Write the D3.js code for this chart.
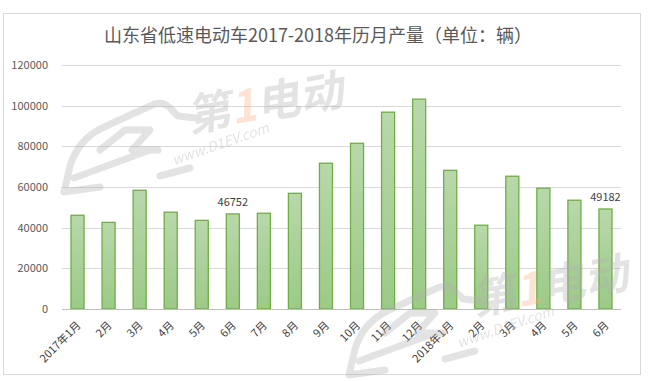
<!DOCTYPE html>
<html>
<head>
<meta charset="utf-8">
<script src="https://cdn.jsdelivr.net/npm/d3@7/dist/d3.min.js"></script>
<style>
    body { margin: 0; background: #fff; }
    text { font-family: 'Noto Sans CJK SC', 'Noto Sans', sans-serif; }
</style>
</head>
<body>
<script>
'use strict';

var title = '山东省低速电动车2017-2018年历月产量（单位：辆）';
var months = ['2017年1月', '2月', '3月', '4月', '5月', '6月', '7月', '8月', '9月', '10月',
    '11月', '12月', '2018年1月', '2月', '3月', '4月', '5月', '6月'];
var output = [46100, 42600, 58400, 47600, 43600, 46752, 47100, 56900, 71700, 81500,
    96800, 103200, 68200, 41200, 65300, 59400, 53500, 49182];
var labelled = [5, 17];
var yTicks = [0, 20000, 40000, 60000, 80000, 100000, 120000];

var width = 653;
var height = 381;
var margin = { left: 62, right: 32, top: 65, bottom: 72 };

var svg = d3.select('body').append('svg')
    .attr('width', width)
    .attr('height', height);

var defs = svg.append('defs');
var grad = defs.append('linearGradient')
    .attr('id', 'barFill')
    .attr('x1', 0).attr('y1', 0).attr('x2', 0).attr('y2', 1);
grad.append('stop').attr('offset', '0%').attr('stop-color', '#b8d8aa');
grad.append('stop').attr('offset', '100%').attr('stop-color', '#9cca87');

// chart frame
svg.append('rect')
    .attr('x', 3.5).attr('y', 13.5)
    .attr('width', 637).attr('height', 361)
    .attr('fill', '#fff')
    .attr('stroke', '#d9d9d9');

var x = d3.scaleBand()
    .domain(months.map(function (d, i) { return i; }))
    .range([margin.left, width - margin.right])
    .paddingInner(0.58)
    .paddingOuter(0.29);

var y = d3.scaleLinear()
    .domain([0, 120000])
    .range([height - margin.bottom, margin.top]);

// gridlines
svg.append('g')
    .selectAll('line')
    .data(yTicks.slice(1))
    .enter().append('line')
    .attr('x1', margin.left).attr('x2', width - margin.right)
    .attr('y1', function (d) { return Math.round(y(d)) + 0.5; })
    .attr('y2', function (d) { return Math.round(y(d)) + 0.5; })
    .attr('stroke', '#d9d9d9');

// bars
svg.append('g')
    .selectAll('rect')
    .data(output)
    .enter().append('rect')
    .attr('x', function (d, i) { return x(i); })
    .attr('y', function (d) { return y(d); })
    .attr('width', x.bandwidth())
    .attr('height', function (d) { return y(0) - y(d); })
    .attr('fill', 'url(#barFill)')
    .attr('stroke', '#70ad47')
    .attr('stroke-width', 1.3);

// baseline
svg.append('line')
    .attr('x1', margin.left).attr('x2', width - margin.right)
    .attr('y1', Math.round(y(0)) + 0.5).attr('y2', Math.round(y(0)) + 0.5)
    .attr('stroke', '#bfbfbf');

// y labels
svg.append('g')
    .selectAll('text')
    .data(yTicks)
    .enter().append('text')
    .attr('x', 48)
    .attr('y', function (d) { return y(d); })
    .attr('dy', '0.35em')
    .attr('text-anchor', 'end')
    .attr('font-size', 11)
    .attr('fill', '#595959')
    .text(function (d) { return d; });

// x labels
svg.append('g')
    .selectAll('text')
    .data(months)
    .enter().append('text')
    .attr('transform', function (d, i) {
        return 'translate(' + (x(i) + x.bandwidth() / 2 + 4) + ',' + 326 + ') rotate(-45)';
    })
    .attr('text-anchor', 'end')
    .attr('font-size', 11)
    .attr('fill', '#404040')
    .text(function (d) { return d; });

// data labels
svg.append('g')
    .selectAll('text')
    .data(labelled)
    .enter().append('text')
    .attr('x', function (i) { return x(i) + x.bandwidth() / 2; })
    .attr('y', function (i) { return y(output[i]) - 8; })
    .attr('text-anchor', 'middle')
    .attr('font-size', 11)
    .attr('fill', '#404040')
    .text(function (i) { return output[i]; });

// watermark, drawn over the plot like in the source picture
function watermark(g) {
    g.append('path')
        .attr('d', 'M64,192 L70,166 Q78,140 102,128 L128,116 L150,106 Q162,100 170,108 ' +
            'L178,116 L196,118 M74,178 L150,150 M100,150 L125,130 L150,130 L132,150 L158,150 ' +
            'M64,192 L100,187 M160,176 L190,168')
        .attr('fill', 'none')
        .attr('stroke', '#b0b0b0')
        .attr('stroke-width', 7)
        .attr('stroke-linecap', 'round')
        .attr('stroke-linejoin', 'round');
    var t = g.append('text')
        .attr('transform', 'translate(190,132) rotate(-10) skewX(-12)')
        .attr('font-size', 44)
        .attr('font-weight', 'bold')
        .attr('fill', '#b0b0b0');
    t.append('tspan').text('第');
    t.append('tspan').attr('fill', '#f5b080').text('1');
    t.append('tspan').text('电动');
    g.append('text')
        .attr('transform', 'translate(174,165) rotate(-19)')
        .attr('font-size', 14)
        .attr('font-style', 'italic')
        .attr('fill', '#b0b0b0')
        .text('www.D1EV.com');
}
watermark(svg.append('g').attr('opacity', 0.35));
watermark(svg.append('g').attr('opacity', 0.35).attr('transform', 'translate(285,183)'));

// title
svg.append('text')
    .attr('x', 318)
    .attr('y', 42)
    .attr('text-anchor', 'middle')
    .attr('font-size', 18)
    .attr('fill', '#595959')
    .text(title);
</script>
</body>
</html>
